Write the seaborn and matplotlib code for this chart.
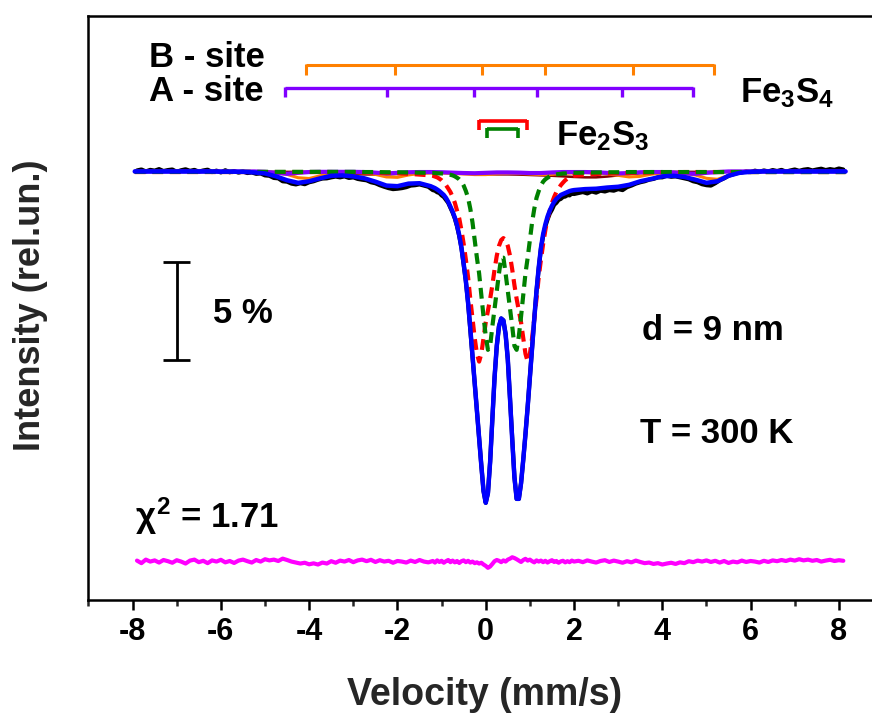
import numpy as np
import matplotlib
matplotlib.use("Agg")
import matplotlib.pyplot as plt
import seaborn as sns
from matplotlib.ticker import MultipleLocator

# ---------------- data (absorption depth in %) ----------------
v_center = [-1.2, -1.15, -1.1, -1.05, -1.0, -0.95, -0.9, -0.85, -0.8, -0.75,
            -0.7, -0.65, -0.6, -0.55, -0.5, -0.45, -0.4, -0.35, -0.3, -0.25,
            -0.2, -0.15, -0.1, -0.05, 0.0, 0.05, 0.1, 0.15, 0.2, 0.25,
            0.3, 0.35, 0.4, 0.45, 0.5, 0.55, 0.6, 0.65, 0.7, 0.75,
            0.8, 0.85, 0.9, 0.95, 1.0, 1.05, 1.1, 1.15, 1.2, 1.25,
            1.3, 1.35, 1.4, 1.45, 1.5, 1.55, 1.6, 1.65, 1.7, 1.75,
            1.8, 1.85, 1.9, 1.95, 2.0]

v_data_left = [-7.9, -7.8, -7.7, -7.6, -7.5, -7.4, -7.3, -7.2, -7.1, -7.0,
               -6.9, -6.8, -6.7, -6.6, -6.5, -6.4, -6.3, -6.2, -6.1, -6.0,
               -5.9, -5.8, -5.7, -5.6, -5.5, -5.4, -5.3, -5.2, -5.1, -5.0,
               -4.9, -4.8, -4.7, -4.6, -4.5, -4.4, -4.3, -4.2, -4.1, -4.0,
               -3.9, -3.8, -3.7, -3.6, -3.5, -3.4, -3.3, -3.2, -3.1, -3.0,
               -2.9, -2.8, -2.7, -2.6, -2.5, -2.4, -2.3, -2.2, -2.1, -2.0,
               -1.9, -1.8, -1.7, -1.6, -1.5, -1.4, -1.3]
v_data_right = [2.1, 2.2, 2.3, 2.4, 2.5, 2.6, 2.7, 2.8, 2.9,
                3.0, 3.1, 3.2, 3.3, 3.4, 3.5, 3.6, 3.7, 3.8, 3.9,
                4.0, 4.1, 4.2, 4.3, 4.4, 4.5, 4.6, 4.7, 4.8, 4.9,
                5.0, 5.1, 5.2, 5.3, 5.4, 5.5, 5.6, 5.7, 5.8, 5.9,
                6.0, 6.1, 6.2, 6.3, 6.4, 6.5, 6.6, 6.7, 6.8, 6.9,
                7.0, 7.1, 7.2, 7.3, 7.4, 7.5, 7.6, 7.7, 7.8, 7.9,
                8.0, 8.1]

v_fit_left = [-7.95,
              -7.75, -7.5, -7.25, -7.0, -6.75, -6.5, -6.25, -6.0,
              -5.75, -5.5, -5.25, -5.0, -4.75, -4.5, -4.25, -4.0,
              -3.75, -3.5, -3.25, -3.0, -2.75, -2.5, -2.25, -2.0,
              -1.75, -1.5, -1.25]
v_fit_right = [2.25, 2.5, 2.75, 3.0, 3.25, 3.5, 3.75, 4.0,
               4.25, 4.5, 4.75, 5.0, 5.25, 5.5, 5.75, 6.0,
               6.25, 6.5, 6.75, 7.0, 7.25, 7.5, 7.75, 8.0, 8.15]

v_site = [-7.95,
          -7.75, -7.5, -7.25, -7.0, -6.75, -6.5, -6.25, -6.0,
          -5.75, -5.5, -5.25, -5.0, -4.75, -4.5, -4.25, -4.0,
          -3.75, -3.5, -3.25, -3.0, -2.75, -2.5, -2.25, -2.0,
          -1.75, -1.5, -1.25, -1.0, -0.75, -0.5, -0.25, 0.0,
          0.25, 0.5, 0.75, 1.0, 1.25, 1.5, 1.75, 2.0,
          2.25, 2.5, 2.75, 3.0, 3.25, 3.5, 3.75, 4.0,
          4.25, 4.5, 4.75, 5.0, 5.25, 5.5, 5.75, 6.0,
          6.25, 6.5, 6.75, 7.0, 7.25, 7.5, 7.75, 8.0, 8.15]

# experimental spectrum (black)
data_left = [-0.05, -0.1, 0.0, -0.08, -0.04, -0.12, -0.02, -0.07, -0.1, 0.02,
             -0.06, -0.11, -0.03, -0.08, 0.01, -0.05, -0.09, 0.03, -0.04, 0.05,
             -0.06, 0.04, -0.02, 0.06, 0.0, 0.08, 0.05, 0.12, 0.1, 0.2,
             0.22, 0.33, 0.35, 0.5, 0.52, 0.62, 0.66, 0.6, 0.65, 0.55,
             0.5, 0.42, 0.36, 0.35, 0.3, 0.26, 0.3, 0.25, 0.33, 0.3,
             0.38, 0.42, 0.45, 0.55, 0.6, 0.7, 0.78, 0.85, 0.9, 0.88,
             0.85, 0.8, 0.72, 0.7, 0.66, 0.72, 0.78]
data_center = [0.95, 0.98, 1.06, 1.1, 1.22, 1.3, 1.45, 1.6, 1.85, 2.1,
               2.4, 2.8, 3.3, 3.9, 4.75, 5.6, 6.7, 8.05, 9.4, 10.8,
               12.2, 13.6, 15.0, 16.3, 16.9, 16.4, 14.8, 12.6, 10.5, 8.9,
               7.9, 7.5, 7.6, 8.3, 9.6, 11.6, 13.7, 15.6, 16.7, 16.7,
               15.9, 14.7, 13.4, 12.0, 10.5, 9.0, 7.5, 6.1, 4.95, 3.95,
               3.3, 2.8, 2.45, 2.15, 1.95, 1.7, 1.6, 1.45, 1.4, 1.3,
               1.28, 1.2, 1.22, 1.12, 1.15]
data_right = [1.1, 1.05, 1.12, 1.02, 1.08, 0.98, 1.02, 0.95, 0.98,
              0.9, 0.95, 0.8, 0.72, 0.62, 0.55, 0.5, 0.42, 0.38, 0.3,
              0.3, 0.22, 0.27, 0.25, 0.3, 0.35, 0.4, 0.5, 0.55, 0.65,
              0.7, 0.72, 0.6, 0.45, 0.35, 0.22, 0.15, 0.08, 0.05, 0.0,
              0.03, -0.04, 0.02, -0.05, 0.0, -0.07, -0.02, -0.08, 0.01, -0.05,
              -0.1, -0.03, -0.09, -0.12, -0.05, -0.1, -0.14, -0.07, -0.12, -0.08,
              -0.15, -0.1]

# residual (magenta), in %, positive = up
resid_left = [0.05, -0.08, 0.1, 0.0, 0.06, -0.05, 0.08, 0.02, -0.06, 0.07,
              0.0, -0.1, 0.05, 0.1, -0.03, 0.04, -0.08, 0.06, 0.0, 0.09,
              -0.04, 0.03, -0.07, 0.05, 0.1, 0.02, -0.05, 0.08, 0.0, 0.12,
              0.06, 0.1, 0.03, 0.15, 0.08, 0.0, -0.05, -0.1, -0.06, -0.14,
              -0.09, -0.15, -0.05, -0.1, 0.02, -0.06, 0.05, 0.0, 0.08, -0.03,
              0.06, 0.1, 0.02, 0.09, -0.02, 0.07, 0.0, 0.04, -0.06, 0.03,
              0.0, -0.05, 0.05, -0.02, 0.08, 0.0, -0.04]
resid_center = [0.03, -0.05, 0.06, -0.02, 0.04, -0.06, 0.02, 0.08, -0.03, 0.05,
                -0.04, 0.03, -0.07, 0.02, 0.06, -0.03, 0.04, -0.05, 0.0, -0.08,
                -0.04, -0.1, -0.06, -0.15, -0.22, -0.32, -0.25, -0.12, 0.02, 0.08,
                0.04, -0.03, 0.06, 0.0, 0.1, 0.15, 0.22, 0.18, 0.12, 0.05,
                -0.02, 0.08, 0.14, 0.05, 0.1, 0.02, -0.04, 0.06, 0.0, 0.05,
                -0.03, 0.04, -0.05, 0.02, 0.07, -0.02, 0.03, -0.06, 0.01, 0.04,
                -0.04, 0.02, -0.03, 0.05, 0.0]
resid_right = [0.04, -0.03, 0.06, 0.0, -0.05, 0.03, 0.07, -0.02, 0.05, 0.0,
               -0.06, 0.02, -0.04, 0.05, -0.02, -0.08, -0.05, -0.12, -0.08, -0.15,
               -0.1, -0.06, -0.12, -0.04, -0.08, 0.02, -0.03, 0.05, 0.0, 0.06,
               -0.02, 0.04, -0.05, 0.03, -0.07, 0.0, -0.04, 0.05, -0.02, 0.03,
               0.0, -0.05, 0.04, -0.02, 0.06, 0.02, 0.08, 0.03, 0.1, 0.05,
               0.12, 0.06, 0.1, 0.04, 0.08, 0.0, 0.05, 0.09, 0.03, 0.07,
               0.04]

# total fit (blue)
total_left = [0.0,
              0, 0, 0, 0, 0, 0, 0, 0.01,
              0.01, 0.02, 0.05, 0.1, 0.25, 0.45, 0.58, 0.5,
              0.35, 0.22, 0.2, 0.25, 0.35, 0.52, 0.72, 0.75,
              0.62, 0.6, 0.75]
total_center = [0.8, 0.85, 0.92, 1.0, 1.1, 1.2, 1.35, 1.55, 1.8, 2.05,
                2.35, 2.75, 3.25, 3.9, 4.7, 5.6, 6.7, 8.0, 9.4, 10.8,
                12.2, 13.6, 15.0, 16.3, 16.9, 16.4, 14.8, 12.6, 10.5, 8.9,
                7.9, 7.5, 7.6, 8.3, 9.6, 11.6, 13.7, 15.6, 16.7, 16.7,
                15.9, 14.7, 13.4, 12.0, 10.5, 9.0, 7.5, 6.1, 4.9, 3.9,
                3.2, 2.7, 2.3, 2.0, 1.75, 1.55, 1.4, 1.3, 1.2, 1.15,
                1.1, 1.05, 1.0, 0.97, 0.95]
total_right = [0.9, 0.88, 0.82, 0.78, 0.68, 0.5, 0.38, 0.25,
               0.22, 0.28, 0.42, 0.58, 0.5, 0.22, 0.07, 0.02,
               0, 0, 0, 0, 0, 0, 0, 0, 0]

# Fe2S3 doublet 1 (red dashed)
red_left = [0.03,
            0.03, 0.03, 0.03, 0.03, 0.03, 0.03, 0.03, 0.03,
            0.03, 0.03, 0.03, 0.03, 0.03, 0.03, 0.03, 0.03,
            0.03, 0.03, 0.04, 0.04, 0.05, 0.06, 0.07, 0.09,
            0.12, 0.16, 0.2]
red_center = [0.22, 0.26, 0.3, 0.37, 0.45, 0.57, 0.7, 0.87, 1.05, 1.3,
              1.6, 2.0, 2.4, 3.0, 3.7, 4.5, 5.4, 6.5, 7.5, 8.5,
              9.3, 9.7, 9.3, 8.5, 7.7, 7.1, 6.5, 5.8, 5.0, 4.3,
              3.8, 3.5, 3.4, 3.5, 3.8, 4.3, 5.0, 5.8, 6.5, 7.1,
              7.7, 8.5, 9.3, 9.7, 9.3, 8.5, 7.5, 6.5, 5.4, 4.5,
              3.7, 3.0, 2.4, 2.0, 1.6, 1.3, 1.05, 0.87, 0.7, 0.57,
              0.45, 0.37, 0.3, 0.26, 0.22]
red_right = [0.17, 0.13, 0.1, 0.08, 0.07, 0.06, 0.05, 0.04,
             0.04, 0.03, 0.03, 0.03, 0.03, 0.03, 0.03, 0.03,
             0.03, 0.03, 0.03, 0.03, 0.03, 0.03, 0.03, 0.03, 0.03]

# Fe2S3 doublet 2 (green dashed)
green_left = [0.02,
              0.02, 0.02, 0.02, 0.02, 0.02, 0.02, 0.02, 0.02,
              0.02, 0.02, 0.02, 0.02, 0.02, 0.02, 0.02, 0.02,
              0.02, 0.02, 0.02, 0.02, 0.03, 0.03, 0.04, 0.04,
              0.05, 0.06, 0.07]
green_center = [0.07, 0.08, 0.09, 0.1, 0.1, 0.12, 0.13, 0.15, 0.17, 0.2,
                0.25, 0.32, 0.4, 0.52, 0.72, 1.0, 1.35, 1.9, 2.6, 3.5,
                4.4, 5.2, 6.3, 7.4, 8.4, 9.1, 8.9, 7.9, 7.0, 6.1,
                5.2, 4.4, 4.4, 5.2, 6.1, 7.0, 7.9, 8.9, 9.1, 8.4,
                7.4, 6.3, 5.2, 4.4, 3.5, 2.6, 1.9, 1.35, 1.0, 0.72,
                0.52, 0.4, 0.32, 0.25, 0.2, 0.17, 0.15, 0.13, 0.12, 0.1,
                0.1, 0.09, 0.08, 0.07, 0.07]
green_right = [0.06, 0.05, 0.04, 0.04, 0.03, 0.03, 0.03, 0.03,
               0.03, 0.03, 0.03, 0.03, 0.03, 0.03, 0.03, 0.03,
               0.03, 0.03, 0.03, 0.03, 0.03, 0.03, 0.03, 0.03, 0.03]

# Fe3S4 sextets and broad component
a_site = [0.0,
          0, 0, 0, 0, 0, 0, 0, 0,
          0, 0, 0, 0.02, 0.07, 0.12, 0.07, 0.03,
          0.02, 0.02, 0.02, 0.02, 0.03, 0.06, 0.1, 0.07,
          0.04, 0.03, 0.03, 0.04, 0.06, 0.08, 0.09, 0.07,
          0.05, 0.05, 0.06, 0.08, 0.08, 0.05, 0.03, 0.03,
          0.03, 0.04, 0.07, 0.1, 0.08, 0.04, 0.03, 0.03,
          0.05, 0.1, 0.12, 0.07, 0.03, 0.0, 0, 0,
          0, 0, 0, 0, 0, 0, 0, 0, 0]
b_site = [0.0,
          0, 0, 0, 0, 0, 0, 0, 0,
          0, 0, 0, 0.02, 0.06, 0.15, 0.32, 0.36,
          0.22, 0.1, 0.06, 0.06, 0.08, 0.15, 0.28, 0.3,
          0.18, 0.1, 0.08, 0.08, 0.1, 0.13, 0.16, 0.16,
          0.12, 0.1, 0.1, 0.13, 0.16, 0.15, 0.1, 0.07,
          0.06, 0.08, 0.12, 0.2, 0.28, 0.25, 0.14, 0.08,
          0.07, 0.1, 0.18, 0.35, 0.4, 0.2, 0.06, 0.02,
          0, 0, 0, 0, 0, 0, 0, 0, 0]
broad = [0.02,
         0.02, 0.02, 0.02, 0.02, 0.02, 0.02, 0.02, 0.02,
         0.02, 0.02, 0.02, 0.02, 0.02, 0.02, 0.02, 0.02,
         0.04, 0.07, 0.1, 0.13, 0.15, 0.16, 0.15, 0.13,
         0.1, 0.08, 0.07, 0.07, 0.08, 0.1, 0.12, 0.14,
         0.15, 0.15, 0.16, 0.18, 0.2, 0.22, 0.25, 0.28,
         0.3, 0.3, 0.26, 0.2, 0.14, 0.09, 0.06, 0.04,
         0.02, 0.02, 0.02, 0.02, 0.02, 0.02, 0.02, 0.02,
         0.02, 0.02, 0.02, 0.02, 0.02, 0.02, 0.02, 0.02, 0.02]

# line positions of the stick diagrams (mm/s)
b_site_lines = [-4.07, -2.06, -0.08, 1.35, 3.34, 5.18]
a_site_lines = [-4.55, -2.23, -0.26, 1.15, 3.08, 4.70]
fe2s3_red_lines = [-0.15, 0.93]
fe2s3_green_lines = [0.02, 0.72]

BASELINE = 100.0        # 100 % transmission
RESID_OFFSET = 80.1     # where the residual is drawn
SCALE_BAR = 5.0         # %

v_data = v_data_left + v_center + v_data_right
v_fit = v_fit_left + v_center + v_fit_right
data = data_left + data_center + data_right
resid = resid_left + resid_center + resid_right
total = total_left + total_center + total_right
red = red_left + red_center + red_right
green = green_left + green_center + green_right

assert len(v_data) == len(data) == len(resid)
assert len(v_fit) == len(total) == len(red) == len(green)
assert len(v_site) == len(a_site) == len(b_site) == len(broad)

# ---------------- style ----------------
sns.set_theme(style="ticks")
plt.rcParams['font.family'] = ['Liberation Sans', 'DejaVu Sans']
plt.rcParams['font.weight'] = 'bold'
plt.rcParams['axes.unicode_minus'] = False
plt.rcParams['mathtext.fontset'] = 'custom'
plt.rcParams['mathtext.rm'] = 'Liberation Sans:bold'
plt.rcParams['mathtext.it'] = 'Liberation Sans'
plt.rcParams['mathtext.bf'] = 'Liberation Sans:bold'

fig = plt.figure(figsize=(8.72, 7.17), dpi=100)
ax = fig.add_axes([88 / 872, 1 - 600 / 717, 784 / 872, 584 / 717])

def trans(vals):
    return [BASELINE - d for d in vals]

common = dict(ax=ax, estimator=None, sort=False, legend=False)

sns.lineplot(x=v_data, y=trans(data), color='black', lw=3.0, zorder=2, **common)
sns.lineplot(x=v_site, y=trans(broad), color='#800000', lw=1.8, zorder=3, **common)
sns.lineplot(x=v_site, y=trans(b_site), color='#FF8000', lw=2.2, zorder=3, **common)
sns.lineplot(x=v_site, y=trans(a_site), color='#8000FF', lw=3.0, zorder=4, **common)
sns.lineplot(x=v_fit, y=trans(red), color='#FF0000', lw=3.0, zorder=5, **common)
ax.lines[-1].set_dashes((2.6, 1.6))
sns.lineplot(x=v_fit, y=trans(green), color='#008000', lw=3.0, zorder=6, **common)
ax.lines[-1].set_dashes((2.6, 1.6))
sns.lineplot(x=v_fit, y=trans(total), color='#0000FF', lw=3.2, zorder=7, **common)
sns.lineplot(x=v_data, y=[RESID_OFFSET + r for r in resid], color='#FF00FF',
             lw=3.0, zorder=7, **common)

# stick diagrams
def sticks(lines, y, drop, color, lw):
    ax.plot([lines[0], lines[-1]], [y, y], color=color, lw=lw,
            solid_capstyle='butt', zorder=8)
    ax.vlines(lines, y - drop, y + 0.05, color=color, lw=lw, zorder=8)

sticks(b_site_lines, 105.43, 0.5, '#FF8000', 2.2)
sticks(a_site_lines, 104.24, 0.43, '#8000FF', 2.4)
sticks(fe2s3_red_lines, 102.59, 0.47, '#FF0000', 2.6)
sticks(fe2s3_green_lines, 102.17, 0.46, '#008000', 2.6)

# scale bar
sb_x, sb_top = -7.0, 95.38
ax.vlines(sb_x, sb_top - SCALE_BAR, sb_top, color='black', lw=2.0)
ax.hlines([sb_top, sb_top - SCALE_BAR], sb_x - 0.3, sb_x + 0.3, color='black', lw=2.0)

tk = dict(fontsize=25, fontweight='bold', color='black', va='baseline', ha='left')
ax.text(-7.63, 105.33, 'B - site', **tk)
ax.text(-7.63, 103.60, 'A - site', **tk)
ax.text(5.76, 103.55, r'Fe$_{3}$S$_{4}$', **tk)
ax.text(1.59, 101.35, r'Fe$_{2}$S$_{3}$', **tk)
ax.text(-6.18, 92.27, '5 %', **tk)
ax.text(3.55, 91.42, 'd = 9 nm', **tk)
ax.text(3.50, 86.15, 'T = 300 K', **tk)
ax.text(-7.94, 81.81, r'$\chi^{2}$ = 1.71', **tk)

# axes
ax.set_xlim(-9.01, 8.75)
ax.set_ylim(78.14, 107.93)
ax.xaxis.set_major_locator(MultipleLocator(2))
ax.xaxis.set_minor_locator(MultipleLocator(1))
ax.tick_params(axis='x', which='major', direction='out', length=7, width=1.8,
               labelsize=22, pad=5, colors='black')
ax.tick_params(axis='x', which='minor', direction='out', length=4, width=1.8)
ax.tick_params(axis='y', left=False, labelleft=False)
for lab in ax.get_xticklabels():
    lab.set_fontweight('bold')
for s in ['left', 'top', 'bottom']:
    ax.spines[s].set_linewidth(1.8)
    ax.spines[s].set_color('black')
ax.spines['right'].set_visible(False)

ax.set_xlabel('Velocity (mm/s)', fontsize=27, fontweight='bold')
ax.xaxis.set_label_coords((485 - 88) / 784, (600 - 695) / 584)
ax.xaxis.label.set_va('center')
ax.set_ylabel('Intensity (rel.un.)', fontsize=26, fontweight='bold')
ax.yaxis.set_label_coords((30 - 88) / 784, (600 - 305) / 584)
ax.yaxis.label.set_va('center')

fig.savefig('out.png', dpi=100)
